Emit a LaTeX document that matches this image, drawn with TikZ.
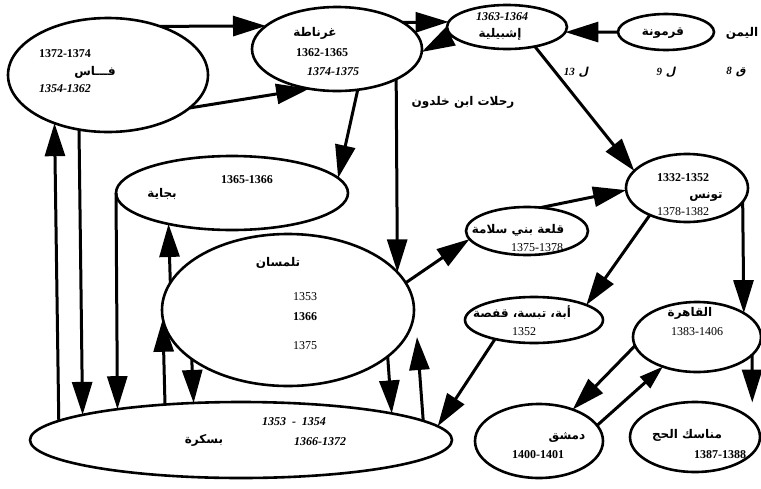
\documentclass[tikz,border=0pt]{standalone}
\usepackage{fontspec}
\setmainfont{Liberation Serif}
\newfontfamily\arabicfont[Script=Arabic]{DejaVu Sans}
\newfontfamily\arabicit[Script=Arabic,FakeSlant=0.2]{DejaVu Sans}
\TeXXeTstate=1
\usetikzlibrary{shapes.geometric,arrows.meta}
\tikzset{
  place/.style={draw, ellipse, line width=2.6pt, inner sep=0pt, outer sep=0pt},
  link/.style={line width=3pt, -{Triangle[length=33pt,width=20pt]}},
  linksmall/.style={line width=3pt, -{Triangle[length=24pt,width=15pt]}},
  ar/.style={font=\arabicfont\bfseries\fontsize{12}{14}\selectfont, inner sep=0pt},
  ari/.style={font=\arabicit\bfseries\fontsize{11}{13}\selectfont, inner sep=0pt},
  num/.style={font=\bfseries\fontsize{12}{14}\selectfont, inner sep=0pt},
  numi/.style={font=\bfseries\itshape\fontsize{12}{14}\selectfont, inner sep=0pt},
  numr/.style={font=\fontsize{12}{14}\selectfont, inner sep=0pt},
}
\begin{document}
\begin{tikzpicture}[x=1pt,y=-1pt]
\fill[white] (0,0) rectangle (761,488);
\useasboundingbox (0,0) rectangle (761,488);
% places
\node[place, minimum width=200pt, minimum height=114pt] (fas) at (108,75) {};
\node[place, minimum width=170pt, minimum height=84pt] (gra) at (337,49) {};
\node[place, minimum width=120pt, minimum height=44pt] (ish) at (507,27) {};
\node[place, minimum width=96pt, minimum height=36pt] (qar) at (666,32) {};
\node[place, minimum width=232pt, minimum height=74pt] (bej) at (232,193) {};
\node[place, minimum width=252pt, minimum height=152pt] (tlm) at (288,310) {};
\node[place, minimum width=422pt, minimum height=76pt] (bis) at (241,440) {};
\node[place, minimum width=122pt, minimum height=48pt] (qal) at (527,231) {};
\node[place, minimum width=122pt, minimum height=68pt] (tun) at (687,188) {};
\node[place, minimum width=138pt, minimum height=46pt] (aba) at (534,320) {};
\node[place, minimum width=128pt, minimum height=70pt] (qah) at (697,337) {};
\node[place, minimum width=128pt, minimum height=74pt] (dim) at (539,441) {};
\node[place, minimum width=130pt, minimum height=70pt] (man) at (695,437) {};
\coordinate (tlmR) at (417,337);
% texts
\node[num] (fasA) at (65,54) {1372-1374};
\node[ar] (fasN) at (95,72) {\beginR فـــاس\endR};
\node[numi] (fasB) at (65,89) {1354-1362};
\node[ar] (graN) at (315,33) {\beginR غرناطة\endR};
\node[num] (graA) at (322,53) {1362-1365};
\node[numi] (graB) at (333,72) {1374-1375};
\node[numi] (ishA) at (502,17) {1363-1364};
\node[ar] (ishN) at (500,34) {\beginR إشبيلية\endR};
\node[ar] (qarN) at (663,33) {\beginR قرمونة\endR};
\node[ar] (yem) at (742,33) {\beginR اليمن\endR};
\node[ari] (c13) at (576,72) {\beginR ل \beginL{\normalfont\bfseries\itshape 13}\endL\endR};
\node[ari] (c9) at (666,72) {\beginR ل \beginL{\normalfont\bfseries\itshape 9}\endL\endR};
\node[ari] (c8) at (736,72) {\beginR ق \beginL{\normalfont\bfseries\itshape 8}\endL\endR};
\node[ar] (title) at (463,102) {\beginR رحلات ابن خلدون\endR};
\node[num] (bejA) at (247,180) {1365-1366};
\node[ar] (bejN) at (162,194) {\beginR بجاية\endR};
\node[ar] (tlmN) at (278,263) {\beginR تلمسان\endR};
\node[numr] (tlmA) at (305,297) {1353};
\node[num] (tlmB) at (305,317) {1366};
\node[numr] (tlmC) at (305,346) {1375};
\node[ar] (bisN) at (204,440) {\beginR بسكرة\endR};
\node[numi] (bisA) at (294,422) {1353 \ - \ 1354};
\node[numi] (bisB) at (320,442) {1366-1372};
\node[ar] (qalN) at (518,230) {\beginR قلعة بني سلامة\endR};
\node[numr] (qalA) at (537,248) {1375-1378};
\node[num] (tunA) at (683,178) {1332-1352};
\node[ar] (tunN) at (706,197) {\beginR تونس\endR};
\node[numr] (tunB) at (683,212) {1378-1382};
\node[ar] (abaN) at (522,313) {\beginR أبة، تبسة، قفصة\endR};
\node[numr] (abaA) at (524,332) {1352};
\node[ar] (qahN) at (690,313) {\beginR القاهرة\endR};
\node[numr] (qahA) at (697,332) {1383-1406};
\node[ar] (dimN) at (567,437) {\beginR دمشق\endR};
\node[num] (dimA) at (538,455) {1400-1401};
\node[ar] (manN) at (687,435) {\beginR مناسك الحج\endR};
\node[num] (manA) at (720,455) {1387-1388};
% connectors
\draw[link] (fas.43.3) -- (gra.162.1);
\draw[link] (fas.338.3) -- (gra.235.8);
\draw[link] (gra.22.6) -- (ish.175.1);
\draw[link] (ish.189.1) -- (gra.358);
\draw[link] (qar.180) -- (ish.355.1);
\draw[link] (ish.325.1) -- (tun.162.4);
\draw[link] (gra.297.3) -- (bej.8.1);
\draw[link] (gra.333.7) -- (tlm.19.3);
\draw[link] (tlm.13.6) -- (qal.188.5);
\draw[link] (qal.60.9) -- (tun.182.8);
\draw[link] (tun.216.1) -- (aba.16.9);
\draw[link] (tun.346.4) -- (qah.27.8);
\draw[link] (qah.188) -- (dim.43.8);
\draw[linksmall] (dim.15.1) -- (qah.221);
\draw[link, shorten >=18pt] (qah.342) -- (man.16.4);
\draw[link] (aba.206) -- (bis.4.7);
\draw[link] (bis.174.5) -- (fas.222.3);
\draw[link] (fas.242.9) -- (bis.171.3);
\draw[link] (bej.180) -- (bis.166.2);
\draw[link] (bis.155.7) -- (tlm.184.4);
\draw[link] (tlm.167.3) -- (bej.206.8);
\draw[link] (tlm.207.7) -- (bis.142.4);
\draw[link] (tlm.335.2) -- (bis.10.5);
\draw[link] (bis.6.8) -- (tlmR);
\end{tikzpicture}
\end{document}
